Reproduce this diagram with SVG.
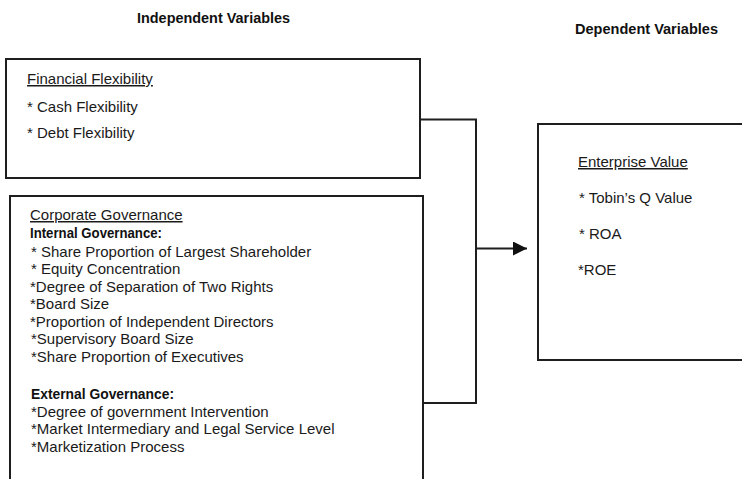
<svg xmlns="http://www.w3.org/2000/svg" width="742" height="479" viewBox="0 0 742 479">
<style>
.box{fill:#fff;stroke:#1e1e1e;stroke-width:2}
.t{font-family:"Liberation Sans",Arial,sans-serif;font-size:15px;fill:#1a1a1a}
.b{font-family:"Liberation Sans",Arial,sans-serif;font-size:15px;font-weight:bold;fill:#111}
.u{text-decoration:underline}
.conn{fill:none;stroke:#1e1e1e;stroke-width:2}
</style>
<defs>
<marker id="ah" markerUnits="userSpaceOnUse" markerWidth="14" markerHeight="14" refX="14" refY="7" orient="auto">
<path d="M0,0 L14,7 L0,14 z" fill="#111"/>
</marker>
</defs>
<rect width="742" height="479" fill="#fff"/>
<g id="titles">
<text class="b" x="137" y="23" textLength="153" lengthAdjust="spacingAndGlyphs">Independent Variables</text>
<text class="b" x="575" y="34" textLength="143" lengthAdjust="spacingAndGlyphs">Dependent Variables</text>
</g>
<g id="connectors">
<path class="conn" d="M420,119.5 H476 V403 H423"/>
<path class="conn" d="M476,248.5 H527" marker-end="url(#ah)"/>
</g>
<g id="financial-flexibility">
<rect class="box" x="6" y="59" width="414" height="119"/>
<text class="t u" x="27" y="84">Financial Flexibility</text>
<text class="t" x="27" y="111.5">* Cash Flexibility</text>
<text class="t" x="27" y="138">* Debt Flexibility</text>
</g>
<g id="corporate-governance">
<rect class="box" x="10" y="196" width="413" height="300"/>
<text class="t u" x="30" y="220">Corporate Governance</text>
<text class="b" x="30" y="237.5" textLength="132" lengthAdjust="spacingAndGlyphs">Internal Governance:</text>
<text class="t" x="31" y="256.5">* Share Proportion of Largest Shareholder</text>
<text class="t" x="31" y="274">*  Equity Concentration</text>
<text class="t" x="30" y="291.5">*Degree of Separation of Two Rights</text>
<text class="t" x="30" y="309">*Board Size</text>
<text class="t" x="30" y="326.5">*Proportion of Independent Directors</text>
<text class="t" x="31" y="344">*Supervisory Board Size</text>
<text class="t" x="31" y="361.5">*Share Proportion of Executives</text>
<text class="b" x="31" y="399" textLength="143" lengthAdjust="spacingAndGlyphs">External Governance:</text>
<text class="t" x="31" y="416.5">*Degree of government Intervention</text>
<text class="t" x="31" y="434">*Market Intermediary and Legal Service Level</text>
<text class="t" x="31" y="451.5">*Marketization Process</text>
</g>
<g id="enterprise-value">
<rect class="box" x="538" y="124" width="220" height="236"/>
<text class="t u" x="578" y="167">Enterprise Value</text>
<text class="t" x="579" y="203">* Tobin’s Q Value</text>
<text class="t" x="579" y="239">*  ROA</text>
<text class="t" x="578" y="275">*ROE</text>
</g>
</svg>
